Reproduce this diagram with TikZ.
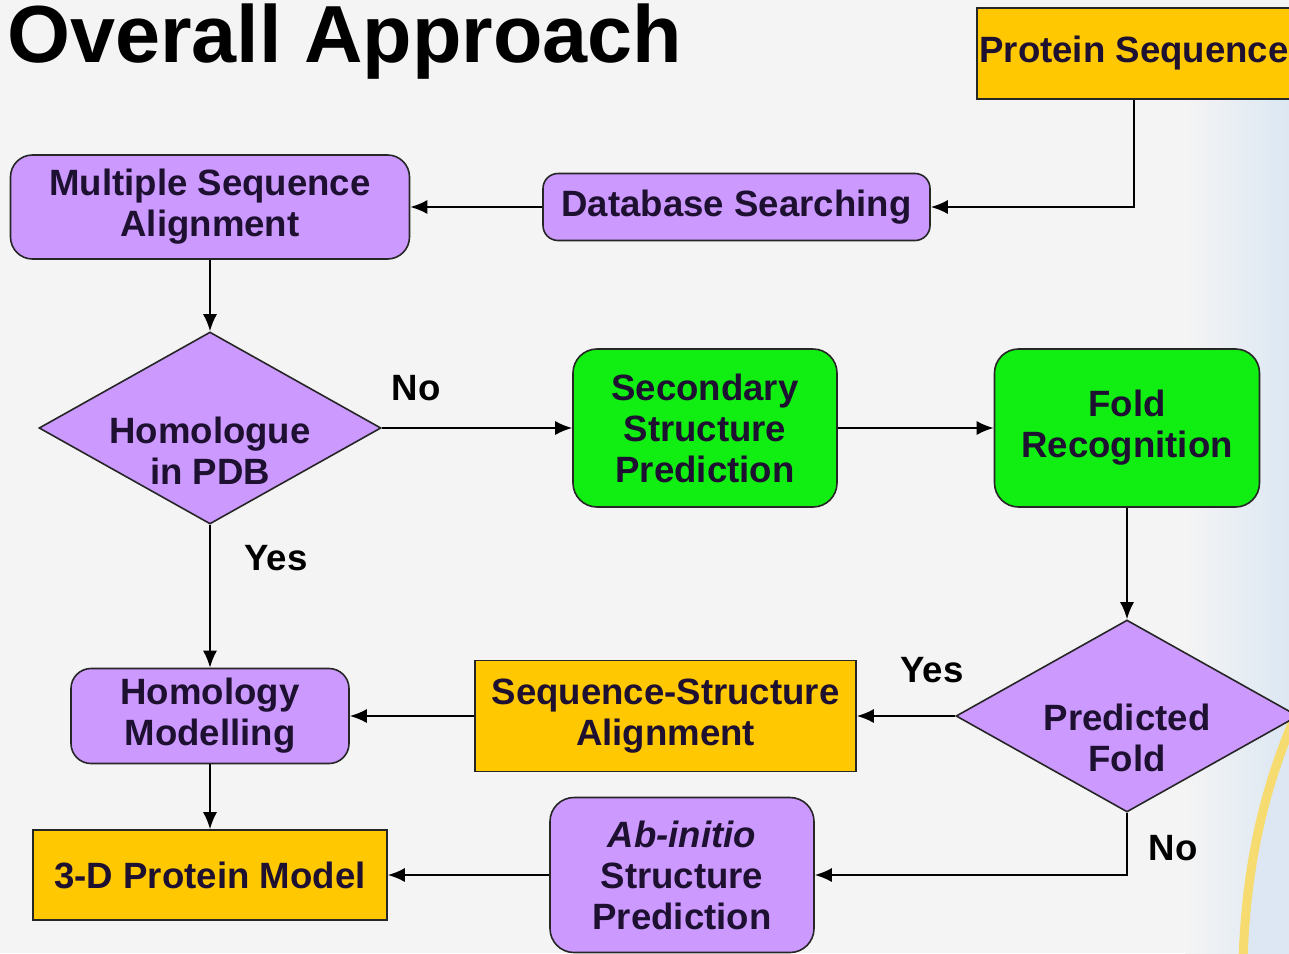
\documentclass[tikz,border=0pt]{standalone}
\usepackage{fontspec}
\setmainfont{Liberation Sans}
\usetikzlibrary{shapes.geometric,arrows.meta}

\definecolor{gold}{HTML}{FFC800}
\definecolor{lilac}{HTML}{CC99FF}
\definecolor{leaf}{HTML}{11EE11}
\definecolor{ink}{HTML}{1E1030}
\definecolor{paper}{HTML}{F4F4F4}
\definecolor{sky}{HTML}{DCE7F3}
\definecolor{sun}{HTML}{F6DC70}

\begin{document}
\begin{tikzpicture}[x=1pt,y=-1pt,
  every node/.style={font=\fontsize{36.6}{41}\selectfont\bfseries, text=ink, align=center, inner sep=0pt},
  box/.style={draw=black!85, line width=1.6pt},
  goldbox/.style={box, rectangle, fill=gold},
  lilacbox/.style={box, rectangle, fill=lilac, rounded corners=#1},
  leafbox/.style={box, rectangle, fill=leaf, rounded corners=24pt},
  choice/.style={box, diamond, aspect=1.8, fill=lilac, minimum width=342pt, minimum height=192pt},
  arr/.style={-{Latex[length=17pt,width=14pt]}, line width=1.8pt, black},
  lbl/.style={text=black}]
\def\colA{210}
\def\rowA{207}
\def\rowB{428}
\def\rowC{716}
\def\rowD{875}

\useasboundingbox (0,0) rectangle (1289,953);
\clip (0,0) rectangle (1289,953);
\fill[paper] (0,0) rectangle (1289,953);
\shade[left color=paper, right color=sky] (1185,90) rectangle (1289,953);
\fill[sky] (1300,705) .. controls (1262,790) and (1246,870) .. (1243,960) -- (1300,960) -- cycle;
\draw[sun, line width=9pt] (1300,705) .. controls (1262,790) and (1246,870) .. (1243,960);

\node[anchor=base west, font=\fontsize{81}{90}\selectfont\bfseries, text=black] (title) at (7,62) {Overall Approach};

\node[goldbox, minimum width=314pt, minimum height=91pt] (seq) at (1134,53.5) {Protein Sequence};
\node[lilacbox=15pt, minimum width=387pt, minimum height=67pt] (dbsearch) at (736.5,\rowA) {Database Searching};
\node[lilacbox=22pt, minimum width=399pt, minimum height=104pt] (msa) at (\colA,\rowA) {Multiple Sequence\\Alignment};
\node[choice] (homologue) at (\colA,\rowB) {};
\node (homologuetext) at (\colA,451) {Homologue\\in PDB};
\node[leafbox, minimum width=264pt, minimum height=158pt] (secstruct) at (705,\rowB) {Secondary\\Structure\\Prediction};
\node[leafbox, minimum width=265pt, minimum height=158pt] (foldrec) at (1127,\rowB) {Fold\\Recognition};
\node[choice] (predfold) at (1127,\rowC) {};
\node (predfoldtext) at (1127,738) {Predicted\\Fold};
\node[goldbox, minimum width=381pt, minimum height=111pt] (seqstruct) at (665.5,\rowC) {Sequence-Structure\\Alignment};
\node[lilacbox=20pt, minimum width=278pt, minimum height=95pt] (hommodel) at (\colA,\rowC) {Homology\\Modelling};
\node[goldbox, minimum width=354pt, minimum height=90pt] (model) at (\colA,\rowD) {3-D Protein Model};
\node[lilacbox=24pt, minimum width=264pt, minimum height=155pt] (abinitio) at (682,\rowD) {\textit{Ab-initio}\\Structure\\Prediction};

\node[lbl] (noA) at (416,388) {No};
\node[lbl] (yesA) at (276,558) {Yes};
\node[lbl] (yesB) at (932,670) {Yes};
\node[lbl] (noB) at (1173,848) {No};

\draw[arr] (seq.south) |- (dbsearch.east);
\draw[arr] (dbsearch) -- (msa);
\draw[arr] (msa) -- (homologue);
\draw[arr] (homologue.east) -- (secstruct.west);
\draw[arr] (secstruct) -- (foldrec);
\draw[arr] (foldrec) -- (predfold.north);
\draw[arr] (predfold.west) -- (seqstruct.east);
\draw[arr] (seqstruct) -- (hommodel);
\draw[arr] (homologue.south) -- (hommodel.north);
\draw[arr] (hommodel) -- (model);
\draw[arr] (predfold.south) |- (abinitio.east);
\draw[arr] (abinitio) -- (model);
\end{tikzpicture}
\end{document}
